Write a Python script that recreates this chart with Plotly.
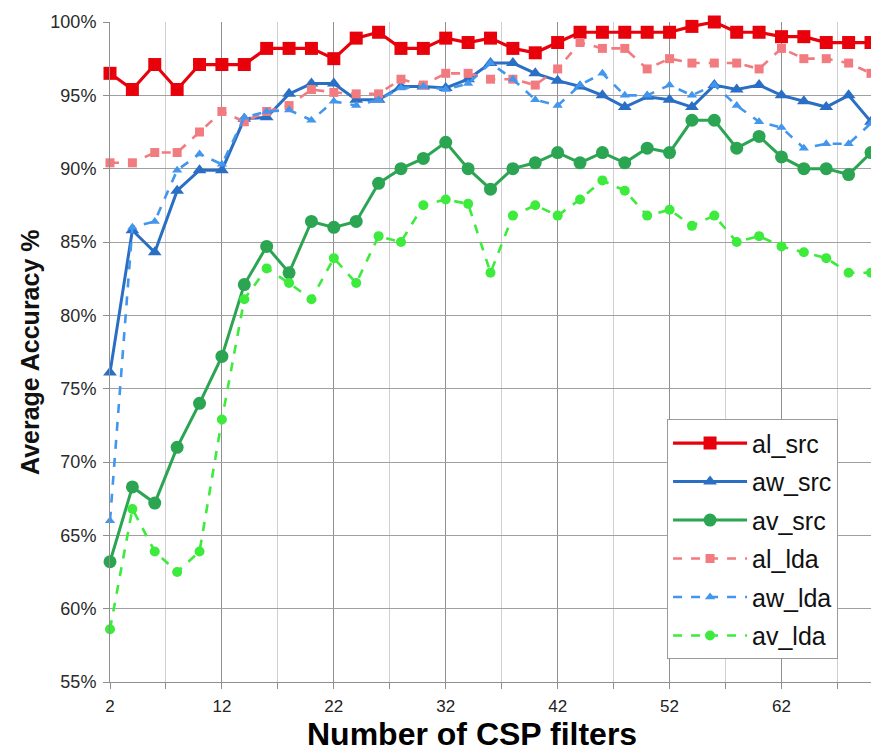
import plotly.graph_objects as go

csp_filters = [2, 4, 6, 8, 10, 12, 14, 16, 18, 20, 22, 24, 26, 28, 30, 32, 34, 36,
               38, 40, 42, 44, 46, 48, 50, 52, 54, 56, 58, 60, 62, 64, 66, 68, 70]

al_src = [96.5, 95.4, 97.1, 95.4, 97.1, 97.1, 97.1, 98.2, 98.2, 98.2, 97.5, 98.9,
          99.3, 98.2, 98.2, 98.9, 98.6, 98.9, 98.2, 97.9, 98.6, 99.3, 99.3, 99.3,
          99.3, 99.3, 99.7, 100.0, 99.3, 99.3, 99.0, 99.0, 98.6, 98.6, 98.6]
aw_src = [76.1, 85.8, 84.3, 88.5, 89.9, 89.9, 93.4, 93.5, 95.1, 95.8, 95.8, 94.7,
          94.7, 95.6, 95.6, 95.5, 96.1, 97.2, 97.2, 96.5, 96.0, 95.6, 95.0, 94.2,
          94.9, 94.7, 94.2, 95.7, 95.4, 95.7, 95.0, 94.6, 94.2, 95.0, 93.2]
av_src = [63.2, 68.3, 67.2, 71.0, 74.0, 77.2, 82.1, 84.7, 82.9, 86.4, 86.0, 86.4,
          89.0, 90.0, 90.7, 91.8, 90.0, 88.6, 90.0, 90.4, 91.1, 90.4, 91.1, 90.4,
          91.4, 91.1, 93.3, 93.3, 91.4, 92.2, 90.8, 90.0, 90.0, 89.6, 91.1]
al_lda = [90.4, 90.4, 91.1, 91.1, 92.5, 93.9, 93.2, 93.9, 94.3, 95.4, 95.2, 95.1,
          95.1, 96.1, 95.7, 96.5, 96.5, 96.1, 96.1, 95.7, 96.8, 98.6, 98.2, 98.2,
          96.8, 97.5, 97.2, 97.2, 97.2, 96.8, 98.2, 97.5, 97.5, 97.2, 96.5]
aw_lda = [66.0, 86.0, 86.4, 89.9, 91.0, 90.3, 93.5, 93.9, 94.0, 93.3, 94.6, 94.3,
          94.7, 95.5, 95.6, 95.4, 95.8, 97.2, 96.1, 94.7, 94.3, 95.7, 96.5, 95.0,
          95.0, 95.7, 95.0, 95.7, 94.3, 93.2, 92.8, 91.4, 91.7, 91.7, 93.1]
av_lda = [58.6, 66.8, 63.9, 62.5, 63.9, 72.9, 81.1, 83.2, 82.2, 81.1, 83.9, 82.2,
          85.4, 85.0, 87.5, 87.9, 87.6, 82.9, 86.8, 87.5, 86.8, 87.9, 89.2, 88.5,
          86.8, 87.2, 86.1, 86.8, 85.0, 85.4, 84.7, 84.3, 83.9, 82.9, 82.9]

y_ticks = [55, 60, 65, 70, 75, 80, 85, 90, 95, 100]
y_tick_text = ["55%", "60%", "65%", "70%", "75%", "80%", "85%", "90%", "95%", "100%"]
x_ticks = [2, 12, 22, 32, 42, 52, 62]

series = [
    ("al_src", al_src, "#E8000A", "solid", "square", 13, 3.2),
    ("aw_src", aw_src, "#2A6FC4", "solid", "triangle-up", 12, 3.0),
    ("av_src", av_src, "#2BA552", "solid", "circle", 13, 3.0),
    ("al_lda", al_lda, "#F27B80", "dash", "square", 9, 2.6),
    ("aw_lda", aw_lda, "#4396EE", "dash", "triangle-up", 9, 2.6),
    ("av_lda", av_lda, "#3CEB3C", "dash", "circle", 10, 2.6),
]

fig = go.Figure()
for name, vals, color, dash, sym, msize, lw in series:
    fig.add_trace(go.Scatter(
        x=csp_filters, y=vals, name=name, mode="lines+markers",
        legendgroup=name,
        line=dict(color=color, width=lw, dash=dash),
        marker=dict(symbol=sym, size=msize, color=color),
        cliponaxis=False,
    ))

axis_font = dict(family="Liberation Sans, Arial, sans-serif", size=18, color="#2a2a2a")

fig.update_layout(
    width=871, height=752,
    margin=dict(l=110, r=0, t=22, b=70),
    plot_bgcolor="white", paper_bgcolor="white",
    showlegend=True,
    legend=dict(
        x=0.732, y=0.398, xanchor="left", yanchor="top",
        bgcolor="white", bordercolor="#9a9a9a", borderwidth=1,
        font=dict(family="Liberation Sans, Arial, sans-serif", size=25, color="#111"),
        itemwidth=74, tracegroupgap=3, entrywidth=110, entrywidthmode="pixels",
    ),
    xaxis=dict(
        range=[2, 70], tickmode="array", tickvals=x_ticks,
        showgrid=True, gridcolor="#8f8f8f", gridwidth=1,
        showline=True, linecolor="#8f8f8f", linewidth=1,
        ticks="outside", ticklen=6, tickcolor="#8f8f8f",
        tickfont=dict(family="Liberation Sans, Arial, sans-serif", size=17, color="#222"),
        ticklabelstandoff=3,
        zeroline=False,
        minor=dict(tick0=2, dtick=5, showgrid=True, gridcolor="#cfcfcf",
                   ticks="outside", ticklen=6, tickcolor="#8f8f8f"),
    ),
    yaxis=dict(
        range=[55, 100], tickmode="array", tickvals=y_ticks, ticktext=y_tick_text,
        showgrid=True, gridcolor="#a0a0a0", gridwidth=1,
        showline=True, linecolor="#8f8f8f", linewidth=1,
        ticks="outside", ticklen=6, tickcolor="#8f8f8f",
        tickfont=axis_font, zeroline=False, ticklabelstandoff=3,
    ),
    annotations=[
        dict(text="<b>Number of CSP filters</b>", xref="paper", yref="paper",
             x=(472 - 110) / 761, y=-(733.8 - 682) / 660, xanchor="center", yanchor="middle",
             showarrow=False,
             font=dict(family="Liberation Sans, Arial, sans-serif", size=32, color="#000")),
        dict(text="<b>Average Accuracy %</b>", xref="paper", yref="paper",
             x=-(110 - 30) / 761, y=0.5, xanchor="center", yanchor="middle",
             textangle=-90, showarrow=False,
             font=dict(family="Liberation Sans, Arial, sans-serif", size=25, color="#111")),
    ],
)

fig.write_html("out.html")
